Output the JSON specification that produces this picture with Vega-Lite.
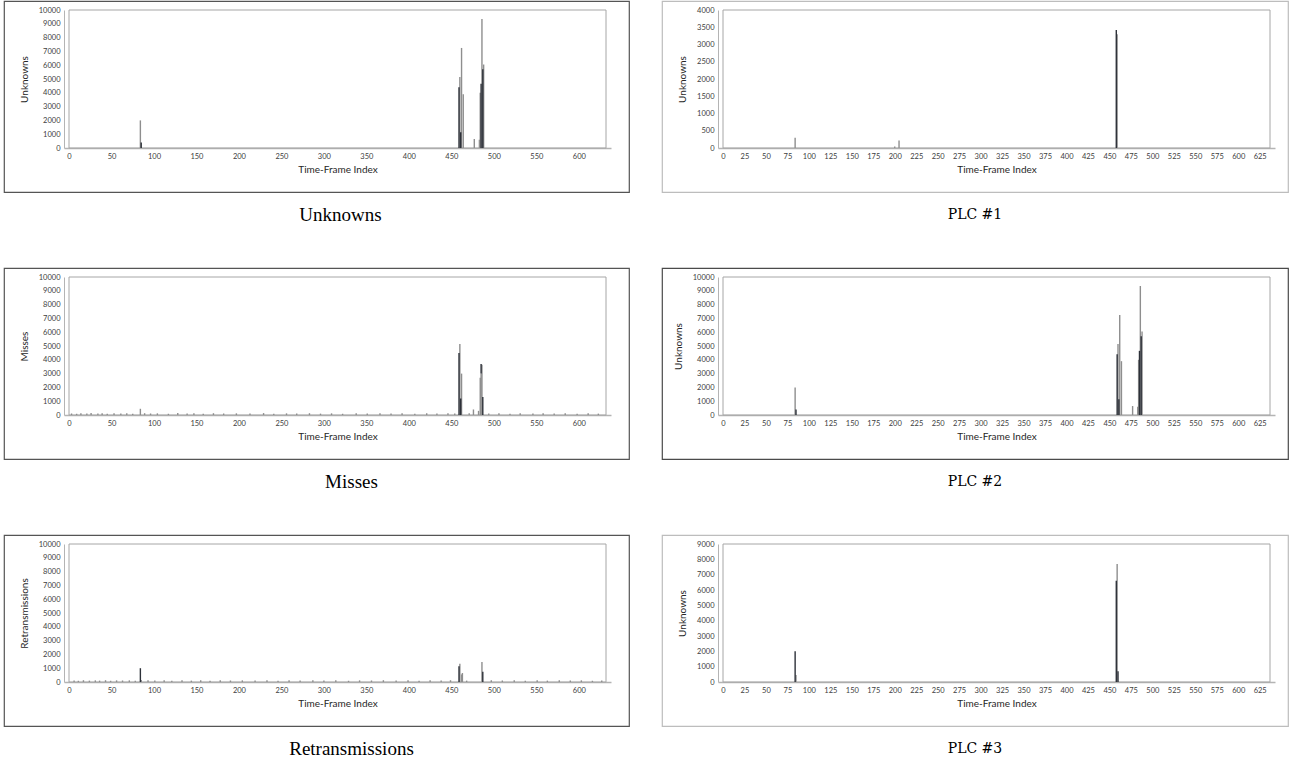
{
  "$schema": "https://vega.github.io/schema/vega-lite/v6.json",
  "padding": {"left": 3, "top": 0, "right": 0, "bottom": 0},
  "background": "white",
  "config": {
    "font": "Lato",
    "title": {"orient": "bottom", "offset": 14, "font": "Liberation Serif", "fontSize": 19, "fontWeight": "normal", "color": "#000000", "anchor": "middle"},
    "axis": {"labelFont": "Lato", "labelFontSize": 7.5, "labelColor": "#404040", "titleFont": "Lato", "titleFontSize": 10, "titleFontWeight": "normal", "titleColor": "#262626", "domainColor": "#b4b4b4", "grid": false, "ticks": false, "labelOverlap": false, "labelFlush": false, "format": "d"},
    "axisX": {"domainWidth": 1.6, "labelPadding": 4, "titlePadding": 5},
    "axisY": {"domainWidth": 1, "labelPadding": 4, "titlePadding": 9}
  },
  "datasets": {
    "A": [
      {"t": 84, "s": "g", "v": 2000}, {"t": 460, "s": "g", "v": 5150}, {"t": 462, "s": "g", "v": 7250}, {"t": 464, "s": "g", "v": 3900},
      {"t": 477, "s": "g", "v": 650}, {"t": 483, "s": "g", "v": 600}, {"t": 484, "s": "g", "v": 4000}, {"t": 486, "s": "g", "v": 9350}, {"t": 488, "s": "g", "v": 6050},
      {"t": 85, "s": "d", "v": 400}, {"t": 459, "s": "d", "v": 4400}, {"t": 461, "s": "d", "v": 1150}, {"t": 485, "s": "d", "v": 4650}, {"t": 487, "s": "d", "v": 5700}
    ],
    "B": [
      {"t": 84, "s": "g", "v": 300}, {"t": 200, "s": "g", "v": 40}, {"t": 205, "s": "g", "v": 220}, {"t": 459, "s": "g", "v": 3300},
      {"t": 458, "s": "d", "v": 3420}
    ],
    "C": [
      {"t": 3, "s": "g", "v": 110}, {"t": 9, "s": "g", "v": 90}, {"t": 14, "s": "g", "v": 130}, {"t": 21, "s": "g", "v": 100}, {"t": 26, "s": "g", "v": 140},
      {"t": 34, "s": "g", "v": 100}, {"t": 39, "s": "g", "v": 120}, {"t": 45, "s": "g", "v": 90}, {"t": 53, "s": "g", "v": 130}, {"t": 61, "s": "g", "v": 100},
      {"t": 68, "s": "g", "v": 120}, {"t": 75, "s": "g", "v": 90}, {"t": 89, "s": "g", "v": 130}, {"t": 96, "s": "g", "v": 110}, {"t": 104, "s": "g", "v": 120},
      {"t": 117, "s": "g", "v": 90}, {"t": 128, "s": "g", "v": 140}, {"t": 139, "s": "g", "v": 100}, {"t": 147, "s": "g", "v": 120}, {"t": 158, "s": "g", "v": 90},
      {"t": 170, "s": "g", "v": 130}, {"t": 182, "s": "g", "v": 110}, {"t": 197, "s": "g", "v": 120}, {"t": 213, "s": "g", "v": 100}, {"t": 229, "s": "g", "v": 140},
      {"t": 241, "s": "g", "v": 90}, {"t": 256, "s": "g", "v": 120}, {"t": 268, "s": "g", "v": 110}, {"t": 283, "s": "g", "v": 130}, {"t": 296, "s": "g", "v": 100},
      {"t": 309, "s": "g", "v": 120}, {"t": 322, "s": "g", "v": 90}, {"t": 338, "s": "g", "v": 120}, {"t": 351, "s": "g", "v": 110}, {"t": 366, "s": "g", "v": 130},
      {"t": 379, "s": "g", "v": 100}, {"t": 392, "s": "g", "v": 120}, {"t": 407, "s": "g", "v": 90}, {"t": 421, "s": "g", "v": 120}, {"t": 433, "s": "g", "v": 110},
      {"t": 446, "s": "g", "v": 130}, {"t": 454, "s": "g", "v": 100}, {"t": 471, "s": "g", "v": 120}, {"t": 494, "s": "g", "v": 110}, {"t": 506, "s": "g", "v": 120},
      {"t": 519, "s": "g", "v": 90}, {"t": 531, "s": "g", "v": 130}, {"t": 546, "s": "g", "v": 100}, {"t": 558, "s": "g", "v": 120}, {"t": 571, "s": "g", "v": 110},
      {"t": 584, "s": "g", "v": 120}, {"t": 598, "s": "g", "v": 90}, {"t": 611, "s": "g", "v": 120}, {"t": 623, "s": "g", "v": 100},
      {"t": 84, "s": "g", "v": 450}, {"t": 460, "s": "g", "v": 5150}, {"t": 462, "s": "g", "v": 3000}, {"t": 476, "s": "g", "v": 400}, {"t": 482, "s": "g", "v": 300},
      {"t": 484, "s": "g", "v": 2700}, {"t": 485, "s": "g", "v": 3000}, {"t": 486, "s": "g", "v": 3650},
      {"t": 459, "s": "d", "v": 4500}, {"t": 461, "s": "d", "v": 1200}, {"t": 485, "s": "d", "v": 700}, {"t": 487, "s": "d", "v": 1300}
    ],
    "E": [
      {"t": 6, "s": "g", "v": 110}, {"t": 11, "s": "g", "v": 90}, {"t": 17, "s": "g", "v": 130}, {"t": 24, "s": "g", "v": 100}, {"t": 31, "s": "g", "v": 120},
      {"t": 36, "s": "g", "v": 100}, {"t": 43, "s": "g", "v": 130}, {"t": 49, "s": "g", "v": 90}, {"t": 56, "s": "g", "v": 120}, {"t": 63, "s": "g", "v": 110},
      {"t": 71, "s": "g", "v": 120}, {"t": 78, "s": "g", "v": 90}, {"t": 93, "s": "g", "v": 130}, {"t": 101, "s": "g", "v": 100}, {"t": 112, "s": "g", "v": 120},
      {"t": 121, "s": "g", "v": 90}, {"t": 133, "s": "g", "v": 130}, {"t": 144, "s": "g", "v": 100}, {"t": 155, "s": "g", "v": 120}, {"t": 166, "s": "g", "v": 90},
      {"t": 178, "s": "g", "v": 130}, {"t": 190, "s": "g", "v": 110}, {"t": 204, "s": "g", "v": 120}, {"t": 219, "s": "g", "v": 100}, {"t": 233, "s": "g", "v": 130},
      {"t": 246, "s": "g", "v": 90}, {"t": 259, "s": "g", "v": 120}, {"t": 272, "s": "g", "v": 110}, {"t": 287, "s": "g", "v": 130}, {"t": 300, "s": "g", "v": 100},
      {"t": 314, "s": "g", "v": 120}, {"t": 329, "s": "g", "v": 90}, {"t": 342, "s": "g", "v": 120}, {"t": 356, "s": "g", "v": 110}, {"t": 370, "s": "g", "v": 130},
      {"t": 385, "s": "g", "v": 100}, {"t": 399, "s": "g", "v": 120}, {"t": 412, "s": "g", "v": 90}, {"t": 425, "s": "g", "v": 120}, {"t": 438, "s": "g", "v": 110},
      {"t": 449, "s": "g", "v": 130}, {"t": 468, "s": "g", "v": 100}, {"t": 497, "s": "g", "v": 120}, {"t": 510, "s": "g", "v": 110}, {"t": 524, "s": "g", "v": 120},
      {"t": 537, "s": "g", "v": 90}, {"t": 551, "s": "g", "v": 130}, {"t": 563, "s": "g", "v": 100}, {"t": 577, "s": "g", "v": 120}, {"t": 590, "s": "g", "v": 110},
      {"t": 603, "s": "g", "v": 120}, {"t": 616, "s": "g", "v": 90}, {"t": 627, "s": "g", "v": 110},
      {"t": 85, "s": "g", "v": 150}, {"t": 460, "s": "g", "v": 1320}, {"t": 462, "s": "g", "v": 550}, {"t": 463, "s": "g", "v": 650}, {"t": 486, "s": "g", "v": 1450},
      {"t": 84, "s": "d", "v": 1000}, {"t": 459, "s": "d", "v": 1150}, {"t": 487, "s": "d", "v": 750}
    ],
    "F": [
      {"t": 85, "s": "g", "v": 450}, {"t": 459, "s": "g", "v": 7700},
      {"t": 84, "s": "d", "v": 2000}, {"t": 458, "s": "d", "v": 6600}, {"t": 460, "s": "d", "v": 700}
    ]
  },
  "vconcat": [
    {
      "hconcat": [
        {
          "width": 625, "height": 191,
          "view": {"stroke": "#555555", "strokeWidth": 1.2},
          "title": {"text": "Unknowns", "dx": 24},
          "encoding": {
            "x": {"type": "quantitative", "scale": {"domain": [0, 632], "range": [60, 607], "nice": false, "zero": false},
                  "axis": {"title": "Time-Frame Index", "offset": -44, "values": [0,50,100,150,200,250,300,350,400,450,500,550,600]}},
            "y": {"type": "quantitative", "scale": {"domain": [0, 10000], "range": [147, 9], "nice": false},
                  "axis": {"title": "Unknowns", "offset": -60, "values": [0,1000,2000,3000,4000,5000,6000,7000,8000,9000,10000]}}
          },
          "layer": [
            {"data": {"values": [{}]}, "mark": {"type": "rect", "filled": false, "color": "#a6a6a6", "strokeWidth": 1},
             "encoding": {"x": {"datum": 0}, "x2": {"datum": 632}, "y": {"datum": 0}, "y2": {"datum": 10000}}},
            {"data": {"name": "A"}, "mark": {"type": "bar", "width": 1.4},
             "encoding": {"x": {"field": "t"}, "y": {"field": "v"},
               "color": {"field": "s", "type": "nominal", "scale": {"domain": ["g", "d"], "range": ["#8e8e8e", "#2d3139"]}, "legend": null}}}
          ]
        },
        {
          "width": 626, "height": 191,
          "view": {"stroke": "#bdbdbd", "strokeWidth": 1.2},
          "title": {"text": "PLC #1", "font": "DejaVu Serif", "fontSize": 14, "offset": 16},
          "encoding": {
            "x": {"type": "quantitative", "scale": {"domain": [0, 637], "range": [56, 613], "nice": false, "zero": false},
                  "axis": {"title": "Time-Frame Index", "offset": -44, "values": [0,25,50,75,100,125,150,175,200,225,250,275,300,325,350,375,400,425,450,475,500,525,550,575,600,625]}},
            "y": {"type": "quantitative", "scale": {"domain": [0, 4000], "range": [147, 9], "nice": false},
                  "axis": {"title": "Unknowns", "offset": -56, "values": [0,500,1000,1500,2000,2500,3000,3500,4000]}}
          },
          "layer": [
            {"data": {"values": [{}]}, "mark": {"type": "rect", "filled": false, "color": "#a6a6a6", "strokeWidth": 1},
             "encoding": {"x": {"datum": 0}, "x2": {"datum": 637}, "y": {"datum": 0}, "y2": {"datum": 4000}}},
            {"data": {"name": "B"}, "mark": {"type": "bar", "width": 1.4},
             "encoding": {"x": {"field": "t"}, "y": {"field": "v"},
               "color": {"field": "s", "type": "nominal", "scale": {"domain": ["g", "d"], "range": ["#8e8e8e", "#2d3139"]}, "legend": null}}}
          ]
        }
      ],
      "spacing": 31
    },
    {
      "hconcat": [
        {
          "width": 625, "height": 191,
          "view": {"stroke": "#555555", "strokeWidth": 1.2},
          "title": {"text": "Misses", "dx": 35},
          "encoding": {
            "x": {"type": "quantitative", "scale": {"domain": [0, 632], "range": [60, 607], "nice": false, "zero": false},
                  "axis": {"title": "Time-Frame Index", "offset": -44, "values": [0,50,100,150,200,250,300,350,400,450,500,550,600]}},
            "y": {"type": "quantitative", "scale": {"domain": [0, 10000], "range": [147, 9], "nice": false},
                  "axis": {"title": "Misses", "offset": -60, "values": [0,1000,2000,3000,4000,5000,6000,7000,8000,9000,10000]}}
          },
          "layer": [
            {"data": {"values": [{}]}, "mark": {"type": "rect", "filled": false, "color": "#a6a6a6", "strokeWidth": 1},
             "encoding": {"x": {"datum": 0}, "x2": {"datum": 632}, "y": {"datum": 0}, "y2": {"datum": 10000}}},
            {"data": {"name": "C"}, "mark": {"type": "bar", "width": 1.4},
             "encoding": {"x": {"field": "t"}, "y": {"field": "v"},
               "color": {"field": "s", "type": "nominal", "scale": {"domain": ["g", "d"], "range": ["#8e8e8e", "#2d3139"]}, "legend": null}}}
          ]
        },
        {
          "width": 626, "height": 191,
          "view": {"stroke": "#4a4a4a", "strokeWidth": 1.2},
          "title": {"text": "PLC #2", "font": "DejaVu Serif", "fontSize": 14, "offset": 16},
          "encoding": {
            "x": {"type": "quantitative", "scale": {"domain": [0, 637], "range": [56, 613], "nice": false, "zero": false},
                  "axis": {"title": "Time-Frame Index", "offset": -44, "values": [0,25,50,75,100,125,150,175,200,225,250,275,300,325,350,375,400,425,450,475,500,525,550,575,600,625]}},
            "y": {"type": "quantitative", "scale": {"domain": [0, 10000], "range": [147, 9], "nice": false},
                  "axis": {"title": "Unknowns", "offset": -56, "values": [0,1000,2000,3000,4000,5000,6000,7000,8000,9000,10000]}}
          },
          "layer": [
            {"data": {"values": [{}]}, "mark": {"type": "rect", "filled": false, "color": "#a6a6a6", "strokeWidth": 1},
             "encoding": {"x": {"datum": 0}, "x2": {"datum": 637}, "y": {"datum": 0}, "y2": {"datum": 10000}}},
            {"data": {"name": "A"}, "mark": {"type": "bar", "width": 1.4},
             "encoding": {"x": {"field": "t"}, "y": {"field": "v"},
               "color": {"field": "s", "type": "nominal", "scale": {"domain": ["g", "d"], "range": ["#8e8e8e", "#2d3139"]}, "legend": null}}}
          ]
        }
      ],
      "spacing": 31
    },
    {
      "hconcat": [
        {
          "width": 625, "height": 191,
          "view": {"stroke": "#555555", "strokeWidth": 1.2},
          "title": {"text": "Retransmissions", "dx": 35},
          "encoding": {
            "x": {"type": "quantitative", "scale": {"domain": [0, 632], "range": [60, 607], "nice": false, "zero": false},
                  "axis": {"title": "Time-Frame Index", "offset": -44, "values": [0,50,100,150,200,250,300,350,400,450,500,550,600]}},
            "y": {"type": "quantitative", "scale": {"domain": [0, 10000], "range": [147, 9], "nice": false},
                  "axis": {"title": "Retransmissions", "offset": -60, "values": [0,1000,2000,3000,4000,5000,6000,7000,8000,9000,10000]}}
          },
          "layer": [
            {"data": {"values": [{}]}, "mark": {"type": "rect", "filled": false, "color": "#a6a6a6", "strokeWidth": 1},
             "encoding": {"x": {"datum": 0}, "x2": {"datum": 632}, "y": {"datum": 0}, "y2": {"datum": 10000}}},
            {"data": {"name": "E"}, "mark": {"type": "bar", "width": 1.4},
             "encoding": {"x": {"field": "t"}, "y": {"field": "v"},
               "color": {"field": "s", "type": "nominal", "scale": {"domain": ["g", "d"], "range": ["#8e8e8e", "#2d3139"]}, "legend": null}}}
          ]
        },
        {
          "width": 626, "height": 191,
          "view": {"stroke": "#bdbdbd", "strokeWidth": 1.2},
          "title": {"text": "PLC #3", "font": "DejaVu Serif", "fontSize": 14, "offset": 16},
          "encoding": {
            "x": {"type": "quantitative", "scale": {"domain": [0, 637], "range": [56, 613], "nice": false, "zero": false},
                  "axis": {"title": "Time-Frame Index", "offset": -44, "values": [0,25,50,75,100,125,150,175,200,225,250,275,300,325,350,375,400,425,450,475,500,525,550,575,600,625]}},
            "y": {"type": "quantitative", "scale": {"domain": [0, 9000], "range": [147, 9], "nice": false},
                  "axis": {"title": "Unknowns", "offset": -56, "values": [0,1000,2000,3000,4000,5000,6000,7000,8000,9000]}}
          },
          "layer": [
            {"data": {"values": [{}]}, "mark": {"type": "rect", "filled": false, "color": "#a6a6a6", "strokeWidth": 1},
             "encoding": {"x": {"datum": 0}, "x2": {"datum": 637}, "y": {"datum": 0}, "y2": {"datum": 9000}}},
            {"data": {"name": "F"}, "mark": {"type": "bar", "width": 1.4},
             "encoding": {"x": {"field": "t"}, "y": {"field": "v"},
               "color": {"field": "s", "type": "nominal", "scale": {"domain": ["g", "d"], "range": ["#8e8e8e", "#2d3139"]}, "legend": null}}}
          ]
        }
      ],
      "spacing": 31
    }
  ],
  "spacing": 41
}
